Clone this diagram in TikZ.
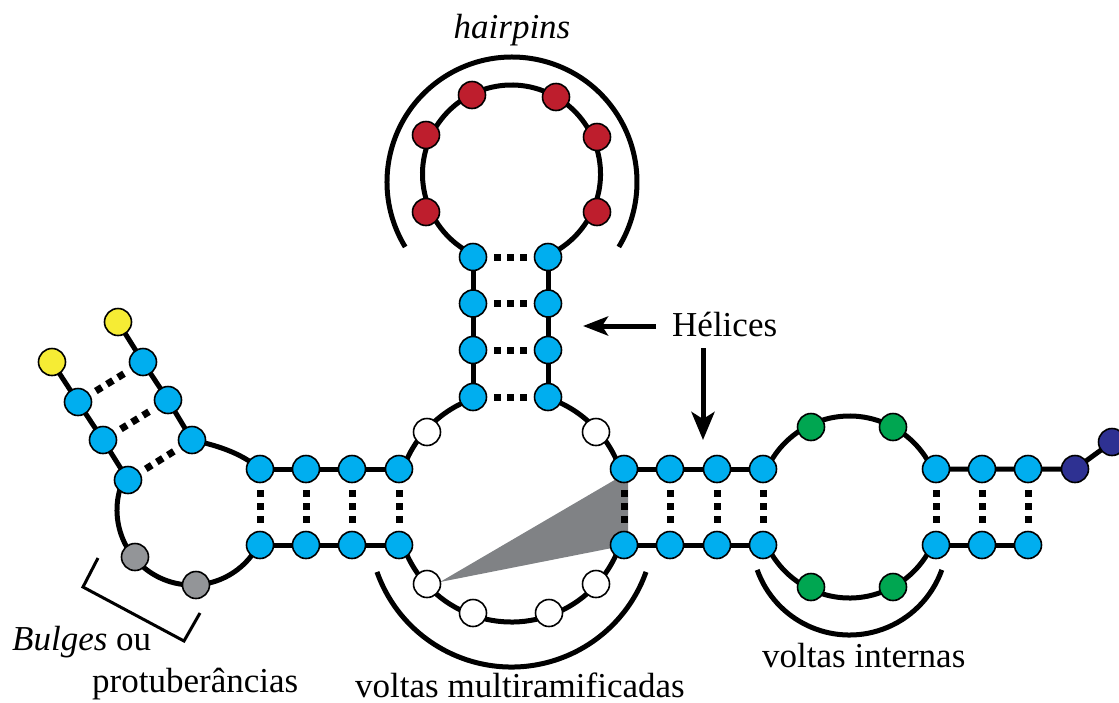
\documentclass[tikz,border=0pt]{standalone}
\usepackage{fontspec}
\setmainfont{Liberation Serif}
\usetikzlibrary{arrows.meta}
\pgfdeclarelayer{bg}
\pgfsetlayers{bg,main}
\definecolor{cyanN}{RGB}{0,174,239}
\definecolor{redN}{RGB}{190,30,45}
\definecolor{greenN}{RGB}{0,166,81}
\definecolor{yellowN}{RGB}{246,236,52}
\definecolor{grayN}{RGB}{147,149,152}
\definecolor{navyN}{RGB}{46,49,146}
\definecolor{wedgeN}{RGB}{128,130,133}
\begin{document}
\begin{tikzpicture}[x=1pt,y=-1pt,
  nbase/.style={circle,draw=black,line width=1.6pt,minimum size=27pt,inner sep=0pt},
  ncy/.style={nbase,fill=cyanN},
  nrd/.style={nbase,fill=redN},
  ngr/.style={nbase,fill=greenN},
  nyl/.style={nbase,fill=yellowN},
  ngy/.style={nbase,fill=grayN},
  nwh/.style={nbase,fill=white},
  nnv/.style={nbase,fill=navyN},
  bb/.style={line width=5pt},
  pairbond/.style={line width=7pt,dash pattern=on 7pt off 6pt,shorten <=21pt,shorten >=21pt},
  bracketline/.style={line width=5pt},
  arr/.style={line width=5pt},
  lbl/.style={inner sep=0pt,font=\fontsize{35}{40}\selectfont}
]
\useasboundingbox (0,0) rectangle (1119,702);

% ---------- nodes ----------
% left diagonal branch
\node[nyl] (ya) at (52,362) {};
\node[ncy] (la1) at (78,402) {};
\node[ncy] (la2) at (103,440) {};
\node[ncy] (la3) at (128,480) {};
\node[nyl] (yb) at (118,322) {};
\node[ncy] (lb1) at (143,362) {};
\node[ncy] (lb2) at (168,400) {};
\node[ncy] (lb3) at (192,440) {};
% bulge
\node[ngy] (g1) at (135,557) {};
\node[ngy] (g2) at (196,585) {};
% left helix
\foreach \i/\x in {1/260,2/306,3/352,4/399}{
  \node[ncy] (t\i) at (\x,469) {};
  \node[ncy] (b\i) at (\x,545) {};
}
% multiloop whites
\node[nwh] (w1) at (427,432) {};
\node[nwh] (w2) at (596,432) {};
\node[nwh] (w3) at (427,584) {};
\node[nwh] (w4) at (473,613) {};
\node[nwh] (w5) at (549,613) {};
\node[nwh] (w6) at (596,584) {};
% stem
\foreach \i/\y in {1/397,2/350,3/303.5,4/257}{
  \node[ncy] (sl\i) at (473,\y) {};
  \node[ncy] (sr\i) at (548,\y) {};
}
% hairpin loop
\node[nrd] (r1) at (426,212) {};
\node[nrd] (r2) at (426,135) {};
\node[nrd] (r3) at (472,95) {};
\node[nrd] (r4) at (556,97) {};
\node[nrd] (r5) at (597,137) {};
\node[nrd] (r6) at (597,212) {};
% right helix 1
\foreach \i/\x in {1/624,2/670,3/717,4/763}{
  \node[ncy] (rt\i) at (\x,469) {};
  \node[ncy] (rb\i) at (\x,545) {};
}
% internal loop
\node[ngr] (gr1) at (811,427) {};
\node[ngr] (gr2) at (893,427) {};
\node[ngr] (gr3) at (811,587) {};
\node[ngr] (gr4) at (893,587) {};
% right helix 2
\foreach \i/\x in {1/936,2/982,3/1028}{
  \node[ncy] (st\i) at (\x,469) {};
  \node[ncy] (sb\i) at (\x,545) {};
}
\node[nnv] (n1) at (1075,469) {};
\node[nnv] (n2) at (1112,442) {};

% ---------- background: wedge, backbone, pairs ----------
\begin{pgfonlayer}{bg}
  \fill[wedgeN] (440,582) -- (618,478) -- (628,478) -- (628,548) -- (612,548) -- cycle;
  % left branch
  \draw[bb] (ya.center) -- (la1.center) -- (la2.center) -- (la3.center);
  \draw[bb] (yb.center) -- (lb1.center) -- (lb2.center) -- (lb3.center);
  \draw[bb] (lb3.center) .. controls (215,445) and (240,452) .. (t1.center);
  \draw[bb] ([shift={(205.1:75)}]192,510) arc[start angle=205.1,end angle=27.2,radius=75];
  % left helix
  \draw[bb] (t1.center) -- (t4.center);
  \draw[bb] (b1.center) -- (b4.center);
  % multiloop
  \draw[bb] ([shift={(161.8:115)}]511.5,507) arc[start angle=161.8,end angle=18.2,radius=115];
  \draw[bb] ([shift={(198.7:115)}]511.5,507) arc[start angle=198.7,end angle=250.7,radius=115];
  \draw[bb] ([shift={(289.3:115)}]511.5,507) arc[start angle=289.3,end angle=341.3,radius=115];
  % stem
  \draw[bb] (sl1.center) -- (sl4.center);
  \draw[bb] (sr1.center) -- (sr4.center);
  % hairpin loop
  \draw[bb] ([shift={(114:89)}]511.5,174) arc[start angle=114,end angle=426,radius=89];
  % right helix 1
  \draw[bb] (rt1.center) -- (rt4.center);
  \draw[bb] (rb1.center) -- (rb4.center);
  % internal loop
  \draw[bb] ([shift={(203.7:91)}]849.5,507) arc[start angle=203.7,end angle=336.3,radius=91];
  \draw[bb] ([shift={(156.3:91)}]849.5,507) arc[start angle=156.3,end angle=23.7,radius=91];
  % right helix 2 and tail
  \draw[bb] (st1.center) -- (st3.center) -- (n1.center) -- (n2.center);
  \draw[bb] (sb1.center) -- (sb3.center);
  % base pairs
  \foreach \i in {1,2,3}{\draw[pairbond] (la\i.center) -- (lb\i.center);}
  \foreach \i in {1,2,3,4}{
    \draw[pairbond] (t\i.center) -- (b\i.center);
    \draw[pairbond] (sl\i.center) -- (sr\i.center);
    \draw[pairbond] (rt\i.center) -- (rb\i.center);
  }
  \foreach \i in {1,2,3}{\draw[pairbond] (st\i.center) -- (sb\i.center);}
\end{pgfonlayer}

% ---------- brackets ----------
\draw[bracketline] ([shift={(148.7:125)}]512,182) arc[start angle=148.7,end angle=391.3,radius=125];
\draw[bracketline] ([shift={(160.5:142.7)}]511.5,524.3) arc[start angle=160.5,end angle=19.5,radius=142.7];
\draw[bracketline] ([shift={(160.4:98)}]849.5,537) arc[start angle=160.4,end angle=19.6,radius=98];
\draw[line width=3pt] (98,558) -- (83,587) -- (184,641) -- (200,613);

% ---------- arrows ----------
\coordinate (ah1s) at (656,326);
\coordinate (ah1e) at (583,326);
\coordinate (ah2s) at (703,348);
\coordinate (ah2e) at (703,440);
\draw[arr,-{Stealth[length=25pt,width=19pt,inset=6pt]}] (ah1s) -- (ah1e);
\draw[arr,-{Stealth[length=28pt,width=23pt,inset=7pt]}] (ah2s) -- (ah2e);

% ---------- labels ----------
\node[lbl,anchor=base] (lhair) at (512,38) {\textit{hairpins}};
\node[lbl,anchor=base west] (lhel) at (672,336) {Hélices};
\node[lbl,anchor=base west] (lbul) at (12,650) {\textit{Bulges} ou};
\node[lbl,anchor=base west] (lprot) at (92,692) {protuberâncias};
\node[lbl,anchor=base west] (lmulti) at (355,697) {voltas multiramificadas};
\node[lbl,anchor=base west] (lint) at (762,667) {voltas internas};
\end{tikzpicture}
\end{document}
